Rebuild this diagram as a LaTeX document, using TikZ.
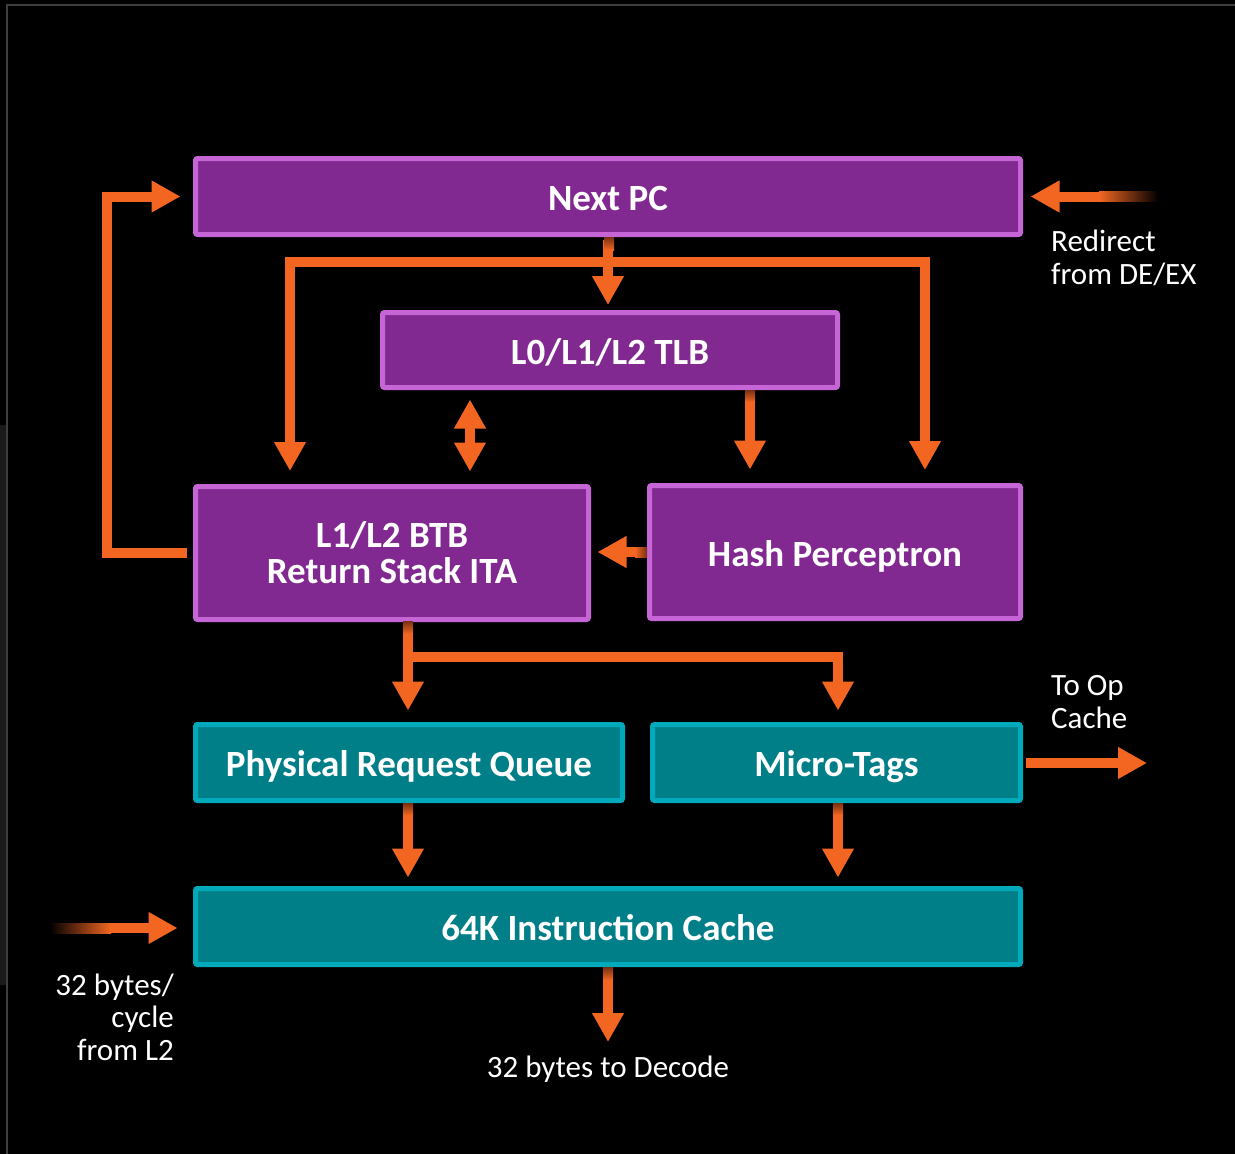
\documentclass[tikz,border=0pt]{standalone}
\usepackage{fontspec}
\setmainfont{Carlito}
\usetikzlibrary{arrows.meta}
\definecolor{orng}{RGB}{242,102,34}
\definecolor{orngdark}{RGB}{120,48,18}
\definecolor{purfill}{RGB}{129,41,144}
\definecolor{purline}{RGB}{198,102,214}
\definecolor{tealfill}{RGB}{0,127,136}
\definecolor{tealline}{RGB}{0,170,186}
\definecolor{framegrey}{RGB}{62,62,62}
\definecolor{sidegrey}{RGB}{26,26,26}
\newcommand\boxfont{\fontsize{37}{36}\selectfont\bfseries}
\newcommand\lblfont{\fontsize{31}{32.5}\selectfont}
\tikzset{
  pbox/.style={draw=purline, fill=purfill, line width=5pt, rounded corners=2pt,
    text=white, font=\boxfont, align=center, inner sep=0pt},
  tbox/.style={pbox, draw=tealline, fill=tealfill},
  oneline/.style={text height=28pt, text depth=0pt},
  flow/.style={draw=orng, line width=10pt, line join=miter,
    -{Triangle[width=30pt,length=29pt]}},
  flowboth/.style={flow, {Triangle[width=30pt,length=29pt]}-{Triangle[width=30pt,length=29pt]}},
  lbl/.style={text=white, font=\lblfont, inner sep=0pt},
}
\begin{document}
\begin{tikzpicture}[x=1pt,y=-1pt]
% background and frame
\fill[black] (0,0) rectangle (1235,1154);
\useasboundingbox (0,0) rectangle (1235,1154);
\fill[sidegrey] (0,425) rectangle (6,985);
\draw[framegrey, line width=2pt] (7,1154) -- (7,5) -- (1235,5);

% boxes
\node[pbox, oneline, minimum width=825pt, minimum height=76pt] (nextpc) at (608,196.5) {Next PC};
\node[pbox, oneline, minimum width=455pt, minimum height=75pt] (tlb) at (610,350) {L0/L1/L2 TLB};
\node[pbox, minimum width=393pt, minimum height=133pt] (btb) at (392,553) {L1/L2 BTB\\Return Stack ITA};
\node[pbox, oneline, minimum width=371pt, minimum height=133pt] (hash) at (835,552) {Hash Perceptron};
\node[tbox, oneline, minimum width=427pt, minimum height=76pt] (prq) at (409,762.5) {Physical Request Queue};
\node[tbox, oneline, minimum width=368pt, minimum height=76pt] (micro) at (836.5,762.5) {Micro-Tags};
\node[tbox, oneline, minimum width=825pt, minimum height=76pt] (cache) at (608,926.5) {64K Instruction Cache};

% helper coordinates
\coordinate (jl) at (290,262);
\coordinate (jr) at (925,262);
\coordinate (dx) at (470,0);
\coordinate (hx) at (750,0);
\coordinate (fbx) at (107,0);
\coordinate (bj) at (408,657);
\coordinate (mj) at (838,657);
\coordinate (tor) at (1147,763);
\coordinate (outd) at (608,1042);
\coordinate (rd) at (1100,196.5);
\coordinate (inl) at (110,928);

% connectors
\draw[flow, shorten <=2.5pt, shorten >=5pt] (nextpc.south) -- (nextpc.south |- tlb.north);
\draw[flowboth, shorten <=13pt, shorten >=13pt] (jl |- btb.north) -- (jl) -- (jr) -- (jr |- hash.north);
\draw[flowboth, shorten <=9.5pt, shorten >=12.5pt] (dx |- tlb.south) -- (dx |- btb.north);
\draw[flow, shorten <=2.5pt, shorten >=13.5pt] (hx |- tlb.south) -- (hx |- hash.north);
\draw[flow, shorten <=2.5pt, shorten >=6.5pt] (hash.west) -- (hash.west -| btb.east);
\draw[flow, shorten <=6.5pt, shorten >=12.5pt] (btb.west) -- (btb.west -| fbx) -- (fbx |- nextpc.west) -- (nextpc.west);
\draw[flow, shorten <=2.5pt, shorten >=11.5pt] (bj |- btb.south) -- (bj |- prq.north);
\draw[flow, shorten >=11.5pt] (bj) -- (mj) -- (mj |- micro.north);
\draw[flow, shorten <=2.5pt, shorten >=8.5pt] (bj |- prq.south) -- (bj |- cache.north);
\draw[flow, shorten <=2.5pt, shorten >=8.5pt] (mj |- micro.south) -- (mj |- cache.north);
\draw[flow, shorten <=2.5pt] (micro.east |- tor) -- (tor);
\draw[flow, shorten <=2.5pt] (cache.south) -- (outd);
\shade[left color=orng, right color=black] (1099,191.5) rectangle (1158,201.5);
\draw[flow, shorten >=7.5pt] (rd) -- (nextpc.east);
\shade[left color=black, right color=orng] (50,923) rectangle (111,933);
\draw[flow, shorten >=15.5pt] (inl) -- (inl -| cache.west);

% start shading near boxes
\shade[top color=orngdark, bottom color=orng] (604,237) rectangle (614,250);
\shade[top color=orngdark, bottom color=orng] (745,390) rectangle (755,402);
\shade[top color=orngdark, bottom color=orng] (403,621) rectangle (413,634);
\shade[top color=orngdark, bottom color=orng] (403,803) rectangle (413,815);
\shade[top color=orngdark, bottom color=orng] (833,803) rectangle (843,815);
\shade[top color=orngdark, bottom color=orng] (603,967) rectangle (613,980);
\shade[left color=orng, right color=orngdark] (635,547) rectangle (647,557);

% labels (base anchor = baseline of last line)
\node[lbl, anchor=base west, align=left] (redirlbl) at (1051,284) {Redirect\\from DE/EX};
\node[lbl, anchor=base west, align=left] (oplbl) at (1051,728) {To Op\\Cache};
\node[lbl, anchor=base east, align=right] (l2lbl) at (174,1060) {32 bytes/\\cycle\\from L2};
\node[lbl, anchor=base] (declbl) at (608,1077) {32 bytes to Decode};
\end{tikzpicture}
\end{document}
